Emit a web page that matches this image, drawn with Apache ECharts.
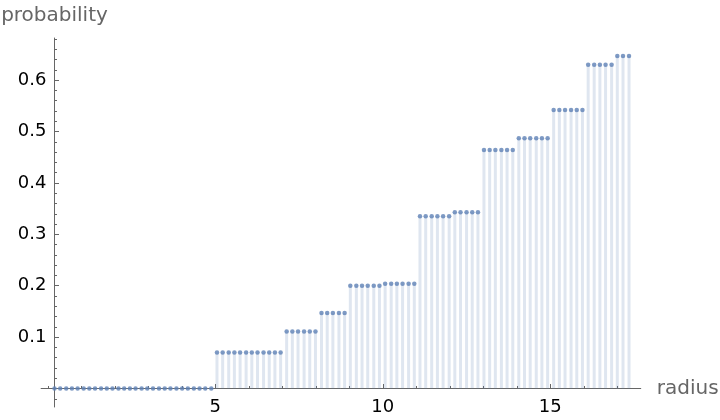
<!DOCTYPE html>
<html>
<head>
<meta charset="utf-8">
<script src="https://cdn.jsdelivr.net/npm/echarts@6/dist/echarts.min.js"></script>
<style>html,body{margin:0;padding:0;background:#fff}#c{width:720px;height:420px}</style>
</head>
<body>
<div id="c"></div>
<script>
var radius = [0.20,0.37,0.55,0.72,0.89,1.07,1.24,1.41,1.59,1.76,
1.93,2.11,2.28,2.45,2.62,2.80,2.97,3.14,3.32,3.49,
3.66,3.84,4.01,4.18,4.36,4.53,4.70,4.88,5.05,5.22,
5.40,5.57,5.74,5.92,6.09,6.26,6.44,6.61,6.78,6.95,
7.13,7.30,7.47,7.65,7.82,7.99,8.17,8.34,8.51,8.69,
8.86,9.03,9.21,9.38,9.55,9.73,9.90,10.07,10.25,10.42,
10.59,10.77,10.94,11.11,11.28,11.46,11.63,11.80,11.98,12.15,
12.32,12.50,12.67,12.84,13.02,13.19,13.36,13.54,13.71,13.88,
14.06,14.23,14.40,14.58,14.75,14.92,15.10,15.27,15.44,15.62,
15.79,15.96,16.13,16.31,16.48,16.65,16.83,17.00,17.17,17.35];
var probability = [0,0,0,0,0,0,0,0,0,0,
0,0,0,0,0,0,0,0,0,0,
0,0,0,0,0,0,0,0,0.070,0.070,
0.070,0.070,0.070,0.070,0.070,0.070,0.070,0.070,0.070,0.070,
0.111,0.111,0.111,0.111,0.111,0.111,0.147,0.147,0.147,0.147,
0.147,0.200,0.200,0.200,0.200,0.200,0.200,0.204,0.204,0.204,
0.204,0.204,0.204,0.335,0.335,0.335,0.335,0.335,0.335,0.343,
0.343,0.343,0.343,0.343,0.464,0.464,0.464,0.464,0.464,0.464,
0.487,0.487,0.487,0.487,0.487,0.487,0.542,0.542,0.542,0.542,
0.542,0.542,0.630,0.630,0.630,0.630,0.630,0.647,0.647,0.647];
var xMajorTicks = [5, 10, 15];
var xMinorTicks = [0,1,2,3,4,5,6,7,8,9,10,11,12,13,14,15,16,17];
var yMajorTicks = [0.1, 0.2, 0.3, 0.4, 0.5, 0.6];
var yMinorTicks = [-0.02,0.02,0.04,0.06,0.08,0.12,0.14,0.16,0.18,0.22,0.24,0.26,0.28,0.32,0.34,0.36,0.38,0.42,0.44,0.46,0.48,0.52,0.54,0.56,0.58,0.62,0.64,0.66,0.68];

var pts = radius.map(function (r, i) { return [r, probability[i]]; });
var FONT = 'DejaVu Sans';
var axisColor = '#666666';
var chart = echarts.init(document.getElementById('c'), null, {renderer: 'canvas'});
var xMin = -0.2, xMax = 17.7, yMin = -0.036, yMax = 0.682;
chart.setOption({
  animation: false,
  backgroundColor: '#ffffff',
  grid: {left: 41.1, right: 79.25, top: 38, bottom: 13, containLabel: false, outerBoundsMode: 'none'},
  xAxis: [{
    type: 'value', min: xMin, max: xMax,
    axisLine: {show: true, onZero: true, lineStyle: {color: axisColor, width: 1}},
    axisTick: {show: true, inside: true, length: 2.5, customValues: xMinorTicks, lineStyle: {color: axisColor}},
    axisLabel: {show: true, customValues: xMajorTicks, margin: -9, fontSize: 18, fontFamily: FONT, color: '#000000'},
    splitLine: {show: false},
    name: 'radius', nameLocation: 'end', nameGap: 16,
    nameTextStyle: {fontSize: 20, fontFamily: FONT, color: '#666666', verticalAlign: 'middle'}
  }, {
    type: 'value', min: xMin, max: xMax, position: 'bottom',
    axisLine: {show: false, onZero: true},
    axisTick: {show: true, inside: true, length: 4.5, customValues: xMajorTicks, lineStyle: {color: axisColor}},
    axisLabel: {show: false},
    splitLine: {show: false}
  }],
  yAxis: [{
    type: 'value', min: yMin, max: yMax, position: 'left', offset: -13.4,
    axisLine: {show: true, onZero: false, lineStyle: {color: axisColor, width: 1}},
    axisTick: {show: true, inside: true, length: 4.5, customValues: yMajorTicks, lineStyle: {color: axisColor}},
    axisLabel: {show: true, customValues: yMajorTicks, margin: 8, fontSize: 18, fontFamily: FONT, color: '#000000',
      formatter: function (v) { return (Math.round(v * 10) / 10).toFixed(1); }},
    splitLine: {show: false},
    name: 'probability', nameLocation: 'end', nameGap: 12,
    nameTextStyle: {fontSize: 20, fontFamily: FONT, color: '#666666', align: 'center'}
  }, {
    type: 'value', min: yMin, max: yMax, position: 'left', offset: -13.4,
    axisLine: {show: false, onZero: false},
    axisTick: {show: true, inside: true, length: 2.5, customValues: yMinorTicks, lineStyle: {color: axisColor}},
    axisLabel: {show: false},
    splitLine: {show: false}
  }],
  series: [{
    type: 'bar', data: pts, xAxisIndex: 0, yAxisIndex: 0,
    barWidth: 3, itemStyle: {color: 'rgba(94,129,181,0.2)'}, silent: true, z: 1
  }, {
    type: 'scatter', data: pts, xAxisIndex: 0, yAxisIndex: 0,
    symbol: 'circle', symbolSize: 4.5, itemStyle: {color: '#5E81B5'}, silent: true, z: 3
  }]
});
</script>
</body>
</html>
